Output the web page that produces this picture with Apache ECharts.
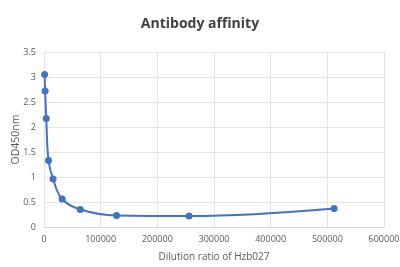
<!DOCTYPE html>
<html>
<head>
<meta charset="utf-8">
<style>
  html, body { margin: 0; padding: 0; background: #fff; }
  #chart { width: 400px; height: 267px; }
</style>
<script src="https://cdn.jsdelivr.net/npm/echarts@6/dist/echarts.min.js"></script>
</head>
<body>
<div id="chart"></div>
<script>
// dilution ratio (x) and OD450 reading (y)
const dilutions = [1000, 2000, 4000, 8000, 16000, 32000, 64000, 128000, 256000, 512000];
const od450 = [3.05, 2.72, 2.17, 1.33, 0.96, 0.56, 0.35, 0.23, 0.22, 0.37];

const chart = echarts.init(document.getElementById('chart'));
const labelColor = '#595959';

chart.setOption({
  animation: false,
  title: {
    text: 'Antibody affinity',
    left: 'center',
    top: 12,
    textStyle: {
      fontSize: 14,
      fontWeight: 'bold',
      color: '#404040',
      fontFamily: 'Open Sans'
    }
  },
  grid: {
    left: 44,
    right: 16,
    top: 52,
    bottom: 40,
    outerBoundsMode: 'none'
  },
  xAxis: {
    type: 'value',
    min: 0,
    max: 600000,
    interval: 100000,
    name: 'Dilution ratio of Hzb027',
    nameLocation: 'middle',
    nameGap: 25,
    nameTextStyle: { color: labelColor, fontSize: 10, fontFamily: 'Open Sans' },
    axisLine: { lineStyle: { color: '#d9d9d9' } },
    axisTick: { show: false },
    axisLabel: {
      color: labelColor, fontSize: 9, fontFamily: 'Open Sans', margin: 8,
      formatter: v => String(v)
    },
    splitLine: { lineStyle: { color: '#e3e3e3' } }
  },
  yAxis: {
    type: 'value',
    min: 0,
    max: 3.5,
    interval: 0.5,
    name: 'OD450nm',
    nameLocation: 'middle',
    nameGap: 22,
    nameMoveOverlap: false,
    nameTextStyle: { color: labelColor, fontSize: 10.5, fontFamily: 'Open Sans' },
    axisLine: { show: false },
    axisTick: { show: false },
    axisLabel: { color: labelColor, fontSize: 9, fontFamily: 'Open Sans', margin: 8 },
    splitLine: { lineStyle: { color: '#e3e3e3' } }
  },
  series: [{
    type: 'line',
    data: dilutions.map((d, i) => [d, od450[i]]),
    smooth: 0.4,
    symbol: 'circle',
    symbolSize: 7,
    color: '#4472C4',
    lineStyle: { width: 2, color: '#4472C4' },
    itemStyle: { color: '#4472C4' }
  }]
});
</script>
</body>
</html>
